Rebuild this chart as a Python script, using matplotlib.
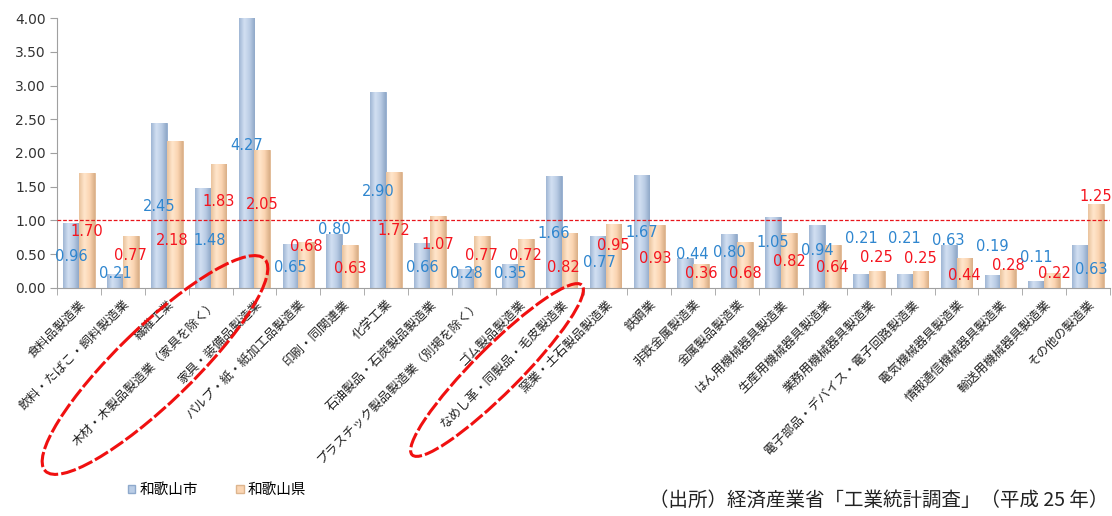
import numpy as np
import matplotlib
matplotlib.use("Agg")
import matplotlib.pyplot as plt
from matplotlib.patches import Patch, Ellipse
from matplotlib.colors import LinearSegmentedColormap

plt.rcParams['font.family'] = ['Noto Sans CJK JP', 'DejaVu Sans']

# データ（特化係数）
categories = [
    '食料品製造業', '飲料・たばこ・飼料製造業', '繊維工業',
    '木材・木製品製造業（家具を除く）', '家具・装備品製造業',
    'パルプ・紙・紙加工品製造業', '印刷・同関連業', '化学工業',
    '石油製品・石炭製品製造業', 'プラスチック製品製造業（別掲を除く）',
    'ゴム製品製造業', 'なめし革・同製品・毛皮製造業', '窯業・土石製品製造業',
    '鉄鋼業', '非鉄金属製造業', '金属製品製造業', 'はん用機械器具製造業',
    '生産用機械器具製造業', '業務用機械器具製造業',
    '電子部品・デバイス・電子回路製造業', '電気機械器具製造業',
    '情報通信機械器具製造業', '輸送用機械器具製造業', 'その他の製造業',
]
city = [0.96, 0.21, 2.45, 1.48, 4.27, 0.65, 0.80, 2.90, 0.66, 0.28, 0.35, 1.66,
        0.77, 1.67, 0.44, 0.80, 1.05, 0.94, 0.21, 0.21, 0.63, 0.19, 0.11, 0.63]
pref = [1.70, 0.77, 2.18, 1.83, 2.05, 0.68, 0.63, 1.72, 1.07, 0.77, 0.72, 0.82,
        0.95, 0.93, 0.36, 0.68, 0.82, 0.64, 0.25, 0.25, 0.44, 0.28, 0.22, 1.25]
series_names = ['和歌山市', '和歌山県']
yticks = [0, 0.5, 1.0, 1.5, 2.0, 2.5, 3.0, 3.5, 4.0]

# 元の図で手動配置されたデータラベルの高さ
city_label_y = [0.46, 0.22, 1.20, 0.71, 2.11, 0.31, 0.87, 1.43, 0.31, 0.22, 0.22, 0.81,
                0.37, 0.82, 0.49, 0.52, 0.67, 0.56, 0.74, 0.74, 0.71, 0.61, 0.45, 0.28]
pref_label_y = [0.83, 0.48, 0.70, 1.28, 1.24, 0.62, 0.29, 0.85, 0.65, 0.48, 0.48, 0.31,
                0.63, 0.44, 0.22, 0.22, 0.39, 0.31, 0.45, 0.43, 0.18, 0.33, 0.22, 1.36]
# 重なりを避けるための横ずらし（カテゴリ幅単位）
city_nudge = {3: 0.15, 12: 0.05, 14: 0.15, 23: 0.26}
pref_nudge = {2: -0.05, 11: -0.15, 13: -0.05, 22: 0.05}

fig = plt.figure(figsize=(11.12, 5.16), dpi=100)
ax = fig.add_axes([0.0513, 0.442, 0.947, 0.523])

x = np.arange(len(categories))
w = 0.36
blue_c, blue_e = '#BACDE6', '#8EA9CC'
orng_c, orng_e = '#FBD6B4', '#DDB58E'
blue_cmap = LinearSegmentedColormap.from_list('b', ['#9FB6D4', '#D2E0F2', '#BBCDE5', '#8FA8C8'])
orng_cmap = LinearSegmentedColormap.from_list('o', ['#E9C29C', '#FFE6CC', '#FBD5B2', '#D9AE86'])

b1 = ax.bar(x - w / 2, city, w, color=blue_c, edgecolor=blue_e, linewidth=0.6)
b2 = ax.bar(x + w / 2, pref, w, color=orng_c, edgecolor=orng_e, linewidth=0.6)

# 棒にグラデーションを付ける
grad = np.linspace(0, 1, 64).reshape(1, -1)
for bars, cmap in [(b1, blue_cmap), (b2, orng_cmap)]:
    for r in bars:
        x0, wd, h = r.get_x(), r.get_width(), r.get_height()
        im = ax.imshow(grad, cmap=cmap, aspect='auto', zorder=r.get_zorder() + 0.1,
                       extent=[x0, x0 + wd, 0, min(h, 4.0)], interpolation='bicubic')
        im.set_clip_path(r)

ax.set_xlim(-0.5, len(categories) - 0.5)
ax.set_ylim(0, 4.0)

# 特化係数 1.0 の基準線
ax.axhline(1.0, color='#E8141A', linestyle=(0, (3, 1.5)), linewidth=0.9, zorder=3)

for i in range(len(categories)):
    ax.text(x[i] - w / 2 + city_nudge.get(i, 0), city_label_y[i], f'{city[i]:.2f}',
            ha='center', va='center', color='#2F86CF', fontsize=10.5,
            family='DejaVu Sans', zorder=5)
    ax.text(x[i] + w / 2 + pref_nudge.get(i, 0), pref_label_y[i], f'{pref[i]:.2f}',
            ha='center', va='center', color='#F5141E', fontsize=10.5,
            family='DejaVu Sans', zorder=5)

ax.set_yticks(yticks)
ax.set_yticklabels([f'{t:.2f}' for t in yticks], fontsize=10,
                   color='#333333', family='DejaVu Sans')
ax.tick_params(axis='y', length=5, color='#A0A0A0', pad=3)

ax.set_xticks(x)
ax.set_xticklabels(categories, rotation=45, ha='right', rotation_mode='anchor',
                   fontsize=9, color='#222222')
ax.tick_params(axis='x', length=0, pad=7)
ax.set_xticks(np.arange(-0.5, len(categories)), minor=True)
ax.tick_params(axis='x', which='minor', length=5, color='#A0A0A0')

for s in ['top', 'right']:
    ax.spines[s].set_visible(False)
for s in ['left', 'bottom']:
    ax.spines[s].set_color('#A0A0A0')

# 凡例
handles = [Patch(facecolor=blue_c, edgecolor=blue_e),
           Patch(facecolor=orng_c, edgecolor=orng_e)]
fig.legend(handles, series_names, loc='center left',
           bbox_to_anchor=(115 / 1112, 1 - 490 / 516), ncol=2, frameon=False,
           fontsize=10.5, handlelength=0.5, handleheight=0.5,
           handletextpad=0.3, columnspacing=2.6)

fig.text(0.997, 1 - 500 / 516, '（出所）経済産業省「工業統計調査」（平成 25 年）',
         ha='right', va='center', fontsize=14, color='#222222')

# 赤い破線の楕円（注目業種）
ov = fig.add_axes([0, 0, 1, 1], facecolor='none')
ov.set_xlim(0, 1112)
ov.set_ylim(516, 0)
ov.axis('off')
ov.add_patch(Ellipse((155, 365), 305, 76, angle=-44, fill=False,
                     edgecolor='#F01010', linewidth=2.2, linestyle=(0, (5, 1))))
ov.add_patch(Ellipse((497, 370), 240, 46, angle=-45, fill=False,
                     edgecolor='#F01010', linewidth=2.2, linestyle=(0, (5, 1))))

fig.savefig('out.png', dpi=100)
